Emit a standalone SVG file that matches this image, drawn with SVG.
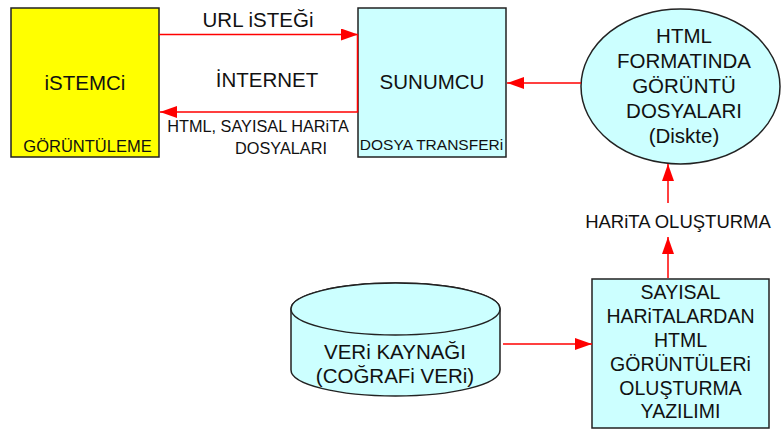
<svg xmlns="http://www.w3.org/2000/svg" width="782" height="430" viewBox="0 0 782 430">
  <style>
    .box { stroke: #222; stroke-width: 1.5; }
    .yellow { fill: #FFFF00; }
    .cyan { fill: #CCFFFF; }
    text { font-family: "Liberation Sans", Arial, sans-serif; fill: #111; text-anchor: middle; }
    .big { font-size: 20.5px; }
    .mid { font-size: 18.5px; }
    .small { font-size: 16px; }
    .link { fill: none; stroke: #FF0000; stroke-width: 1.5; }
  </style>
  <defs>
    <marker id="arrow" markerUnits="userSpaceOnUse" markerWidth="18" markerHeight="14" refX="17" refY="6" orient="auto">
      <path d="M0,0 L17,6 L0,12 Z" fill="#FF0000"/>
    </marker>
  </defs>

  <rect width="782" height="430" fill="#FFFFFF"/>

  <g id="istemci">
    <rect class="box yellow" x="11" y="8" width="148" height="149"/>
    <text class="big" x="85" y="90">iSTEMCi</text>
    <text class="small" x="87.5" y="152" style="font-size:16.5px">GÖRÜNTÜLEME</text>
  </g>

  <g id="sunumcu">
    <rect class="box cyan" x="358" y="8" width="148" height="149"/>
    <text class="big" x="432" y="89">SUNUMCU</text>
    <text class="small" x="431.5" y="150" style="font-size:15.5px">DOSYA TRANSFERi</text>
  </g>

  <g id="html-dosyalari">
    <ellipse class="box cyan" cx="680.5" cy="86.5" rx="99.5" ry="77.5"/>
    <text class="big" x="684" y="43">HTML</text>
    <text class="big" x="684" y="68">FORMATINDA</text>
    <text class="big" x="684" y="93">GÖRÜNTÜ</text>
    <text class="big" x="684" y="118">DOSYALARI</text>
    <text class="big" x="684" y="143">(Diskte)</text>
  </g>

  <g id="veri-kaynagi">
    <path class="box cyan" d="M291,309 L291,370 A104.5,26 0 0 0 500,370 L500,309 A104.5,26 0 0 0 291,309 Z"/>
    <ellipse class="box cyan" cx="395.5" cy="309" rx="104.5" ry="26"/>
    <text class="big" x="395" y="359">VERi KAYNAĞI</text>
    <text class="big" x="395" y="383">(COĞRAFi VERi)</text>
  </g>

  <g id="yazilim">
    <rect class="box cyan" x="592" y="279" width="177" height="149"/>
    <text class="big" x="680.5" y="299" style="font-size:19.5px">SAYISAL</text>
    <text class="big" x="680.5" y="323" style="font-size:19.5px">HARiTALARDAN</text>
    <text class="big" x="680.5" y="347" style="font-size:19.5px">HTML</text>
    <text class="big" x="680.5" y="371" style="font-size:19.5px">GÖRÜNTÜLERi</text>
    <text class="big" x="680.5" y="395" style="font-size:19.5px">OLUŞTURMA</text>
    <text class="big" x="680.5" y="418" style="font-size:19.5px">YAZILIMI</text>
  </g>

  <g id="connectors">
    <line class="link" x1="159" y1="34.5" x2="358" y2="34.5" marker-end="url(#arrow)"/>
    <polyline class="link" points="357.5,34.5 357.5,112 160,112" marker-end="url(#arrow)"/>
    <line class="link" x1="581" y1="83" x2="507" y2="83" marker-end="url(#arrow)"/>
    <line class="link" x1="668" y1="203" x2="668" y2="164" marker-end="url(#arrow)"/>
    <line class="link" x1="668" y1="278" x2="668" y2="237" marker-end="url(#arrow)"/>
    <line class="link" x1="503" y1="344" x2="592" y2="344" marker-end="url(#arrow)"/>
  </g>

  <g id="labels">
    <text class="big" x="258" y="27">URL iSTEĞi</text>
    <text class="big" x="267" y="87">İNTERNET</text>
    <text class="small" x="258" y="132" style="font-size:16.3px">HTML, SAYISAL HARiTA</text>
    <text class="small" x="281" y="154" style="font-size:16.3px">DOSYALARI</text>
    <text class="mid" x="678" y="228">HARiTA OLUŞTURMA</text>
  </g>
</svg>
